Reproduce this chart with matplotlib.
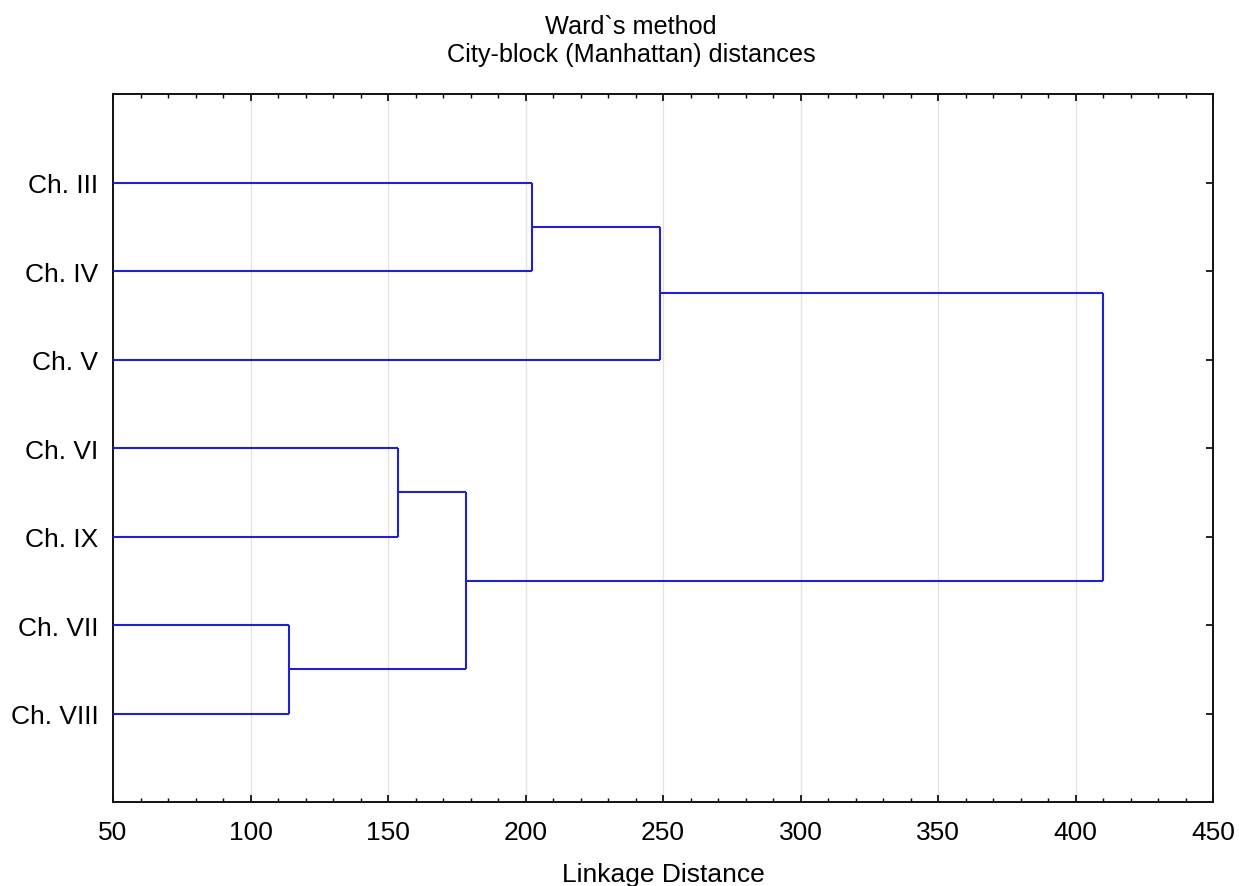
import matplotlib
matplotlib.use("Agg")
import matplotlib.pyplot as plt
from matplotlib.ticker import MultipleLocator

plt.rcParams['font.family'] = ['Liberation Sans', 'DejaVu Sans']

# Data
leaf_labels = ["Ch. III", "Ch. IV", "Ch. V", "Ch. VI", "Ch. IX", "Ch. VII", "Ch. VIII"]
# merges: (node_a, node_b, linkage distance); nodes 0..6 are leaves, 7.. are clusters in order
merge_a = [0, 7, 3, 5, 9, 8]
merge_b = [1, 2, 4, 6, 10, 11]
merge_dist = [202.5, 249.0, 153.5, 114.0, 178.5, 410.0]
x_ticks = [50, 100, 150, 200, 250, 300, 350, 400, 450]

xmin, xmax = 50, 450
color = '#2020d0'

fig = plt.figure(figsize=(12.39, 8.87), dpi=100)
ax = fig.add_axes([0.0912, 0.0947, 0.888, 0.798])

node_x = [xmin] * len(leaf_labels)
node_y = [i + 1 for i in range(len(leaf_labels))]
for a, b, d in zip(merge_a, merge_b, merge_dist):
    for c in (a, b):
        ax.plot([node_x[c], d], [node_y[c], node_y[c]], color=color, lw=1.5, solid_capstyle='butt', zorder=3)
    ax.plot([d, d], [node_y[a], node_y[b]], color=color, lw=1.5, solid_capstyle='butt', zorder=3)
    node_x.append(d)
    node_y.append((node_y[a] + node_y[b]) / 2)

ax.set_xlim(xmin, xmax)
ax.set_ylim(len(leaf_labels) + 1, 0)
ax.set_xticks(x_ticks)
ax.xaxis.set_minor_locator(MultipleLocator(10))
ax.set_yticks(range(1, len(leaf_labels) + 1))
ax.set_yticklabels(leaf_labels)
ax.grid(axis='x', color='#e2e2e2', lw=0.9, zorder=0)
ax.set_axisbelow(True)

ax.tick_params(axis='both', which='major', direction='in', top=True, right=True,
               length=5, width=1.2, labelsize=19, pad=13)
ax.tick_params(axis='x', which='minor', direction='in', top=True, bottom=True,
               length=3, width=1.0)
ax.tick_params(axis='y', which='major', pad=10.5)
for s in ax.spines.values():
    s.set_linewidth(1.4)
    s.set_color('#111111')

ax.set_xlabel("Linkage Distance", fontsize=19, labelpad=13)
fig.text(631 / 1239, 1 - 41 / 887, "Ward`s method\nCity-block (Manhattan) distances",
         ha='center', va='center', fontsize=18.2, linespacing=1.2)

fig.savefig("out.png", dpi=100)
